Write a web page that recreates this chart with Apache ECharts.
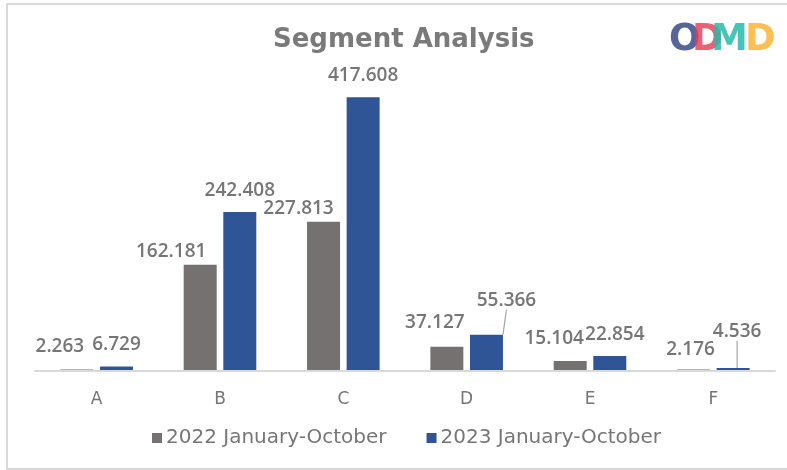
<!DOCTYPE html>
<html>
<head>
<meta charset="utf-8">
<script src="https://cdn.jsdelivr.net/npm/echarts@6/dist/echarts.min.js"></script>
<style>
  html, body { margin: 0; padding: 0; background: #fff; }
  #chart { width: 787px; height: 470px; }
</style>
</head>
<body>
<div id="chart"></div>
<script>
const categories = ['A', 'B', 'C', 'D', 'E', 'F'];
const seriesNames = ['2022 January-October', '2023 January-October'];
const values2022 = [2.263, 162.181, 227.813, 37.127, 15.104, 2.176];
const values2023 = [6.729, 242.408, 417.608, 55.366, 22.854, 4.536];

const FONT = '"DejaVu Sans", Verdana, sans-serif';
const LABEL_FONT = '"Open Sans", "DejaVu Sans", sans-serif';
const TEXT = '#767676';

// label nudges so the small values do not overlap, [series][category] -> [dx, dy]
const nudges = [
  [[-17, -9], [-29, 0], [-25, 0], [-12, -11], [-16, -9], [-3, -6]],
  [[0, -8], [0, -8], [0, -8], [20, -21], [5, -8], [4, -23]]
];
const leaderLine = [
  [false, false, false, false, false, false],
  [false, false, false, true, false, true]
];

const chart = echarts.init(document.getElementById('chart'), null, { renderer: 'canvas' });

function makeSeries(idx, values, color) {
  return {
    name: seriesNames[idx],
    type: 'bar',
    data: values.map((v, i) => ({
      value: v,
      labelLine: { show: leaderLine[idx][i] }
    })),
    barWidth: 33,
    barGap: '20%',
    itemStyle: { color },
    label: {
      show: true,
      position: 'top',
      distance: 4,
      color: TEXT,
      fontFamily: LABEL_FONT,
      fontWeight: 600,
      fontSize: 19,
      formatter: (p) => p.value.toFixed(3)
    },
    labelLine: { lineStyle: { color: '#a6a6a6', width: 1.2 } },
    labelLayout: (p) => {
      const n = nudges[idx][p.dataIndex];
      return { dx: n[0], dy: n[1] };
    }
  };
}

const logoLetters = [
  { t: 'O', x: 669, c: 'rgba(72,88,148,0.92)' },
  { t: 'D', x: 692, c: 'rgba(228,62,84,0.82)' },
  { t: 'M', x: 711, c: 'rgba(40,186,170,0.85)' },
  { t: 'D', x: 745, c: 'rgba(250,178,48,0.82)' }
];

chart.setOption({
  animation: false,
  backgroundColor: '#fff',
  title: {
    text: 'Segment Analysis',
    left: 268,
    top: 22,
    textStyle: { color: '#7a7a7a', fontFamily: FONT, fontWeight: 'bold', fontSize: 26 }
  },
  legend: {
    bottom: 17,
    left: 147,
    itemWidth: 10,
    itemHeight: 10,
    itemGap: 40,
    itemStyle: { borderWidth: 0 },
    icon: 'rect',
    textStyle: { color: TEXT, fontFamily: FONT, fontSize: 20, padding: [0, 0, 0, -1] },
    data: seriesNames
  },
  grid: { left: 35, right: 12, top: 76, bottom: 99, containLabel: false },
  xAxis: {
    type: 'category',
    data: categories,
    z: 5,
    axisLine: { lineStyle: { color: '#d9d9d9', width: 2 } },
    axisTick: { show: false },
    axisLabel: { color: TEXT, fontFamily: FONT, fontSize: 17, margin: 20 }
  },
  yAxis: {
    type: 'value',
    min: 0,
    max: 450,
    show: false,
    splitLine: { show: false }
  },
  graphic: [
    {
      type: 'rect',
      shape: { x: 7, y: 4, width: 800, height: 465 },
      style: { fill: 'none', stroke: '#d9d9d9', lineWidth: 2 },
      silent: true
    },
    ...logoLetters.map((l) => ({
      type: 'text',
      left: l.x,
      top: 22,
      style: {
        text: l.t,
        fill: l.c,
        font: 'bold 37px ' + FONT
      }
    }))
  ],
  series: [
    makeSeries(0, values2022, '#767171'),
    makeSeries(1, values2023, '#2F5597')
  ]
});
</script>
</body>
</html>
